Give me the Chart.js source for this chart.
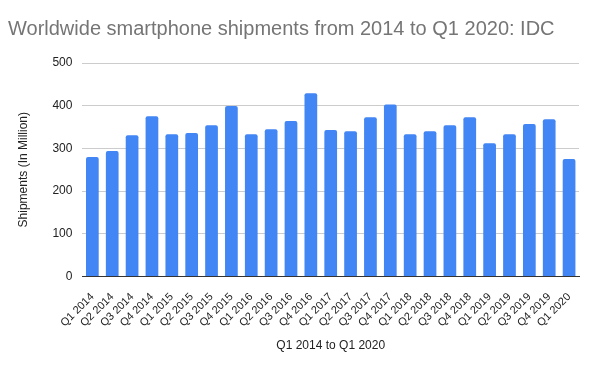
<!DOCTYPE html>
<html lang="en-US">
<head>
	<meta charset="utf-8">
	<title>Worldwide smartphone shipments</title>
	<script src="https://cdn.jsdelivr.net/npm/chart.js@4.4.0/dist/chart.umd.min.js"></script>
	<style>
		html, body { margin: 0; padding: 0; background: #fff; }
		#holder { width: 600px; height: 371px; }
	</style>
</head>
<body>
	<div id="holder"><canvas id="chart"></canvas></div>
	<script>
		const quarters = ['Q1 2014', 'Q2 2014', 'Q3 2014', 'Q4 2014', 'Q1 2015', 'Q2 2015', 'Q3 2015', 'Q4 2015',
			'Q1 2016', 'Q2 2016', 'Q3 2016', 'Q4 2016', 'Q1 2017', 'Q2 2017', 'Q3 2017', 'Q4 2017',
			'Q1 2018', 'Q2 2018', 'Q3 2018', 'Q4 2018', 'Q1 2019', 'Q2 2019', 'Q3 2019', 'Q4 2019', 'Q1 2020'];
		const shipments = [280, 294, 331, 375, 333, 336, 354, 399,
			333, 345, 364, 429, 343, 340, 373, 403,
			333, 340, 354, 373, 312, 333, 357, 368, 275];
		const yTicks = [0, 100, 200, 300, 400, 500];

		Chart.defaults.font.family = '"Liberation Sans", Arial, sans-serif';
		Chart.defaults.color = '#222';

		const config = {
			type: 'bar',
			data: {
				labels: quarters,
				datasets: [{
					data: shipments,
					backgroundColor: '#4285f4',
					borderRadius: { topLeft: 2, topRight: 2 },
					borderSkipped: 'bottom',
					categoryPercentage: 0.64,
					barPercentage: 1.0,
				}]
			},
			options: {
				responsive: true,
				maintainAspectRatio: false,
				animation: false,
				layout: { padding: { left: 8, right: 21, top: 0, bottom: 14 } },
				plugins: {
					legend: { display: false },
					tooltip: { enabled: false },
					title: {
						display: true,
						text: 'Worldwide smartphone shipments from 2014 to Q1 2020: IDC',
						align: 'start',
						color: '#757575',
						font: { size: 20, weight: 'normal' },
						padding: { top: 17, bottom: 22 },
					},
				},
				scales: {
					x: {
						grid: { display: false },
						border: { display: true, color: '#333', width: 1 },
						ticks: {
							minRotation: 45, maxRotation: 45, autoSkip: false,
							font: { size: 11 }, color: '#222', padding: 6,
						},
						title: {
							display: true, text: 'Q1 2014 to Q1 2020',
							font: { size: 12 }, color: '#222', padding: { top: 3 },
						},
					},
					y: {
						min: 0, max: 500,
						afterBuildTicks: (axis) => { axis.ticks = yTicks.map(v => ({ value: v })); },
						grid: { color: '#cccccc', drawTicks: false },
						border: { display: false },
						ticks: { font: { size: 12 }, color: '#222', padding: 10 },
						title: {
							display: true, text: 'Shipments (In Million)',
							font: { size: 12 }, color: '#222', padding: { top: 8, bottom: 12 },
						},
					}
				}
			}
		};

		new Chart(document.getElementById('chart').getContext('2d'), config);
	</script>
</body>
</html>
